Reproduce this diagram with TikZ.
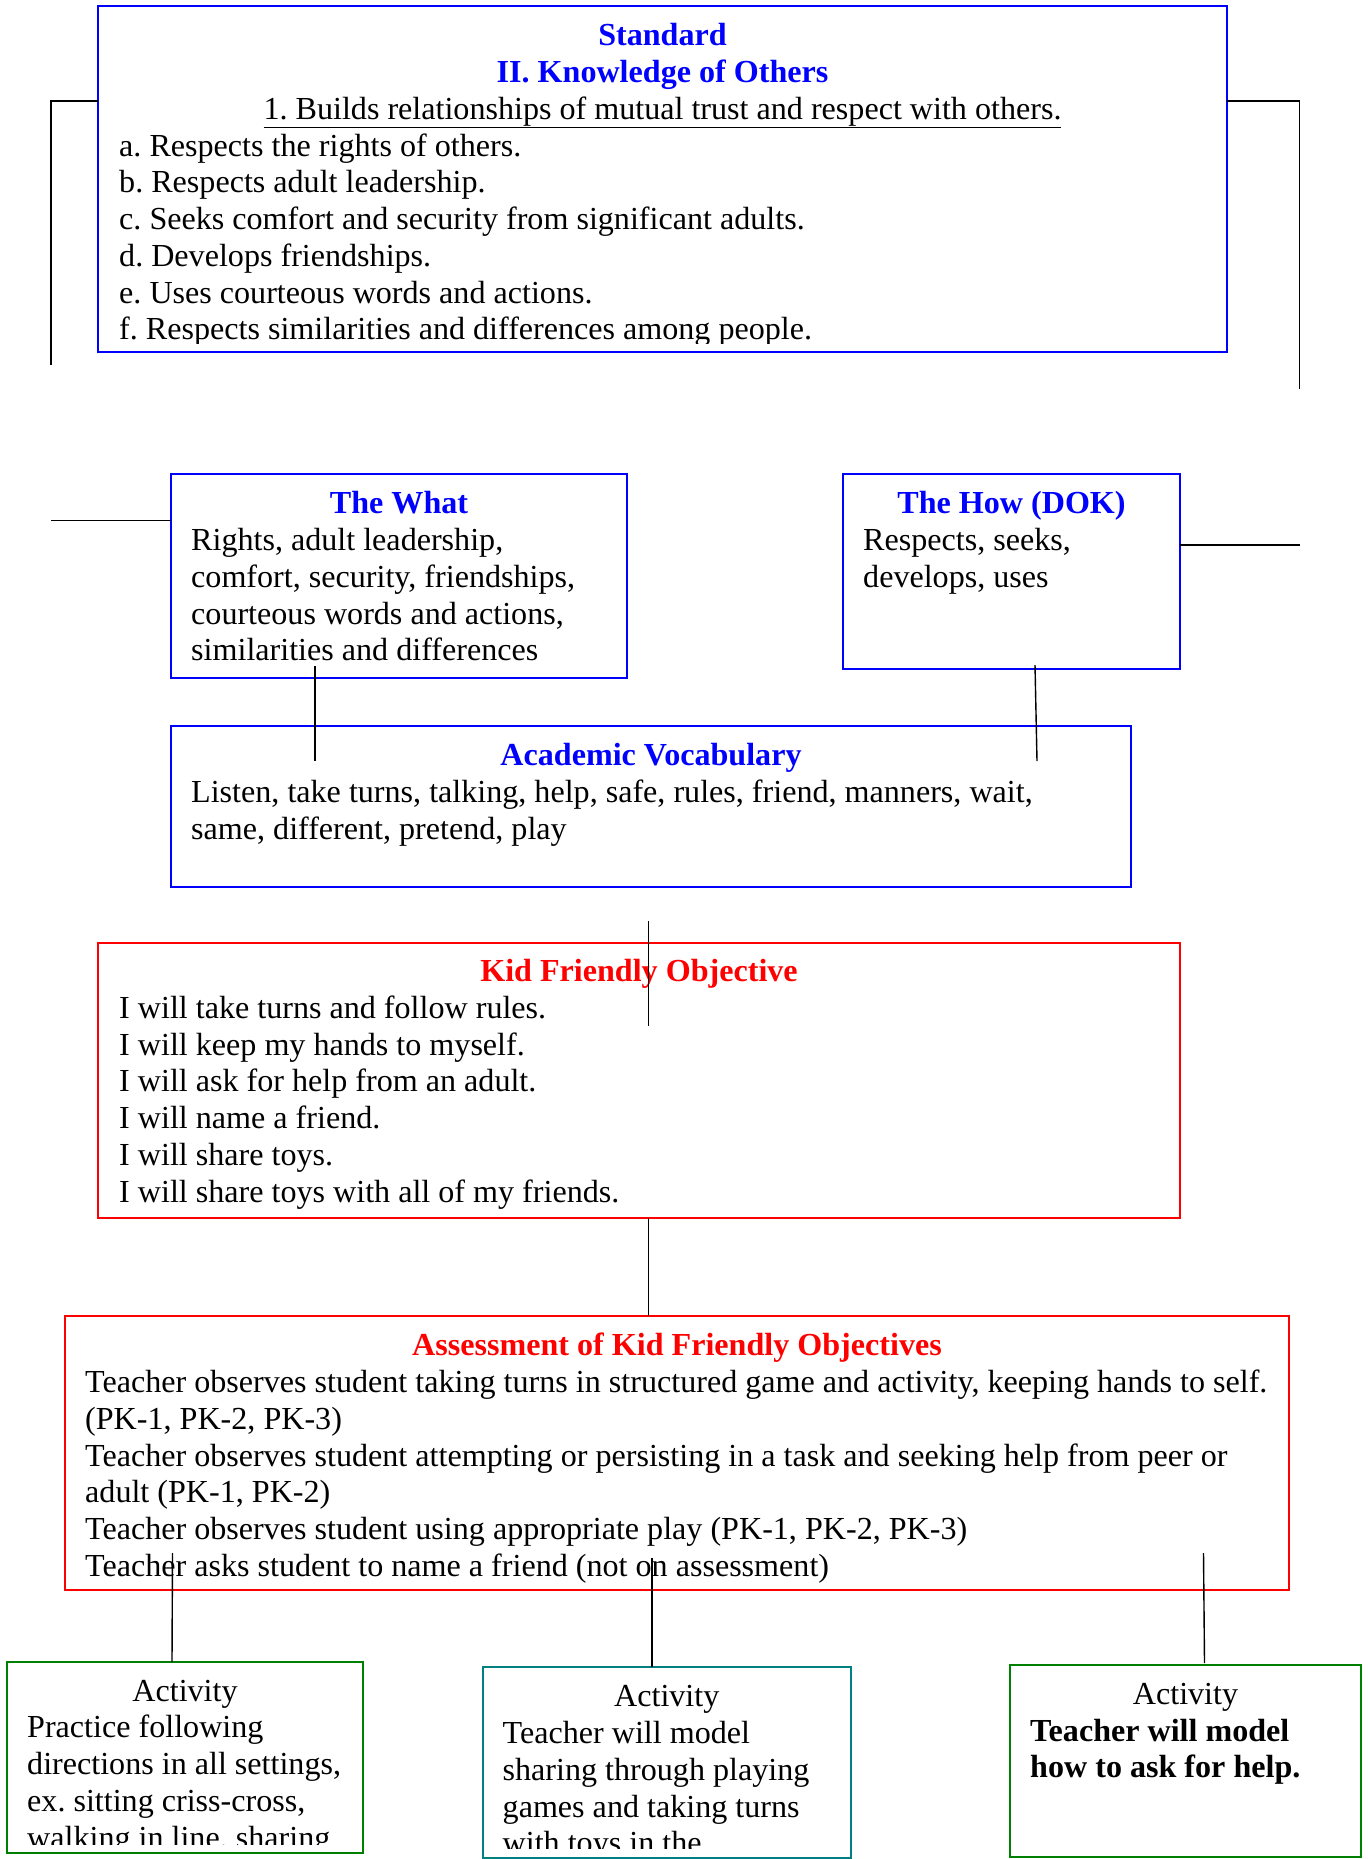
\documentclass[tikz,border=0pt]{standalone}
\usepackage{fontspec}
\setmainfont{Liberation Serif}
\definecolor{stdblue}{RGB}{0,0,255}
\definecolor{kidred}{RGB}{255,0,0}
\definecolor{actgreen}{RGB}{0,128,0}
\definecolor{actteal}{RGB}{0,128,128}
\newcommand\boxfont{\fontsize{32.1}{36.75}\selectfont\frenchspacing}

\begin{document}
\begin{tikzpicture}[x=1pt, y=-1pt, font=\boxfont,
  box/.style={draw=#1, line width=2pt, anchor=north west, inner sep=0pt, outer sep=0pt},
  head/.style={anchor=north, align=center, inner sep=0pt, text=#1, font=\boxfont\bfseries},
  body/.style={anchor=north west, align=left, inner sep=0pt},
  link/.style={line width=1.4pt},
  side/.style={line width=1.8pt}]
\useasboundingbox (0,0) rectangle (1367,1859);

% standard
\node[box=stdblue, minimum width=1129pt, minimum height=346pt] (std) at (98,6) {};
\node[head=stdblue] (stdhead) at ([yshift=-14pt]std.north) {\strut Standard\\II. Knowledge of Others};
\node[anchor=base, inner sep=0pt] (stdgoal) at ([yshift=-113.2pt]std.north) {\underline{1. Builds relationships of mutual trust and respect with others.}};
\begin{scope}
\clip (std.north west) rectangle ([yshift=9pt]std.south east);
\node[body] (stdlist) at ([shift={(21,124.3)}]std.north west) {\strut a. Respects the rights of others.\\
b. Respects adult leadership.\\
c. Seeks comfort and security from significant adults.\\
d. Develops friendships.\\
e. Uses courteous words and actions.\\
f. Respects similarities and differences among people.};
\end{scope}

% what / how
\node[box=stdblue, minimum width=456pt, minimum height=204pt] (what) at (171,474) {};
\node[head=stdblue] (whathead) at ([yshift=-14pt]what.north) {\strut The What};
\node[body] (whatlist) at ([shift={(20,50.7)}]what.north west) {\strut Rights, adult leadership,\\
comfort, security, friendships,\\
courteous words and actions,\\
similarities and differences};

\node[box=stdblue, minimum width=337pt, minimum height=195pt] (how) at (843,474) {};
\node[head=stdblue] (howhead) at ([yshift=-14pt]how.north) {\strut The How (DOK)};
\node[body] (howlist) at ([shift={(20,50.7)}]how.north west) {\strut Respects, seeks,\\develops, uses};

% vocabulary
\node[box=stdblue, minimum width=960pt, minimum height=161pt] (voc) at (171,726) {};
\node[head=stdblue] (vochead) at ([yshift=-14pt]voc.north) {\strut Academic Vocabulary};
\node[body] (voclist) at ([shift={(20,50.7)}]voc.north west) {\strut Listen, take turns, talking, help, safe, rules, friend, manners, wait,\\
same, different, pretend, play};

% objective
\node[box=kidred, minimum width=1082pt, minimum height=275pt] (kid) at (98,942.5) {};
\node[head=kidred] (kidhead) at ([yshift=-13.2pt]kid.north) {\strut Kid Friendly Objective};
\node[body] (kidlist) at ([shift={(21,49.9)}]kid.north west) {\strut I will take turns and follow rules.\\
I will keep my hands to myself.\\
I will ask for help from an adult.\\
I will name a friend.\\
I will share toys.\\
I will share toys with all of my friends.};

% assessment
\node[box=kidred, minimum width=1224pt, minimum height=274pt] (asm) at (65,1316) {};
\node[head=kidred] (asmhead) at ([yshift=-14pt]asm.north) {\strut Assessment of Kid Friendly Objectives};
\node[body] (asmlist) at ([shift={(20,50.7)}]asm.north west) {\strut Teacher observes student taking turns in structured game and activity, keeping hands to self.\\
(PK-1, PK-2, PK-3)\\
Teacher observes student attempting or persisting in a task and seeking help from peer or\\
adult (PK-1, PK-2)\\
Teacher observes student using appropriate play (PK-1, PK-2, PK-3)\\
Teacher asks student to name a friend (not on assessment)};

% activities
\node[box=actgreen, minimum width=356pt, minimum height=191pt] (act1) at (7,1662) {};
\node[head=black, font=\boxfont] (act1head) at ([yshift=-13.2pt]act1.north) {\strut Activity};
\begin{scope}
\clip (act1.north west) rectangle ([yshift=9pt]act1.south east);
\node[body] (act1list) at ([shift={(20,49.9)}]act1.north west) {\strut Practice following\\
directions in all settings,\\
ex. sitting criss-cross,\\
walking in line, sharing};
\end{scope}

\node[box=actteal, minimum width=368.5pt, minimum height=191pt] (act2) at (482.5,1667) {};
\node[head=black, font=\boxfont] (act2head) at ([yshift=-14pt]act2.north) {\strut Activity};
\begin{scope}
\clip (act2.north west) rectangle ([yshift=10pt]act2.south east);
\node[body] (act2list) at ([shift={(20,50.7)}]act2.north west) {\strut Teacher will model\\
sharing through playing\\
games and taking turns\\
with toys in the};
\end{scope}

\node[box=actgreen, minimum width=351pt, minimum height=192.5pt] (act3) at (1010,1664.5) {};
\node[head=black, font=\boxfont] (act3head) at ([yshift=-14pt]act3.north) {\strut Activity};
\node[body, font=\boxfont\bfseries] (act3list) at ([shift={(20,50.7)}]act3.north west) {\strut Teacher will model\\how to ask for help.};

% connectors
\draw[side] (std.north west) ++(0,95) -| ++(-47,264);
\draw[side] (std.north east) ++(0,95) -| ++(72.5,288);
\draw[side] (what.north west) ++(0,46.5) -- ++(-120,0);
\draw[side] (how.north east) ++(0,71) -- ++(119.5,0);
\draw[link] (what.south) ++(-84,-12) -- ++(0,95);
\draw[link] (how.south) ++(23.5,-4) -- ++(2,96);
\draw[link] (kid.north) ++(9.5,-21.5) -- ++(0,104.5);
\draw[link] (kid.south) ++(9.5,0) -- ++(0,98.5);
\draw[link] (act1.north) ++(-13,0) -- ++(0.5,-109);
\draw[link] (act2.north) ++(-14.75,0) -- ++(0,-109);
\draw[link] (act3.north) ++(19,-1.5) -- ++(-1,-110);
\end{tikzpicture}
\end{document}
